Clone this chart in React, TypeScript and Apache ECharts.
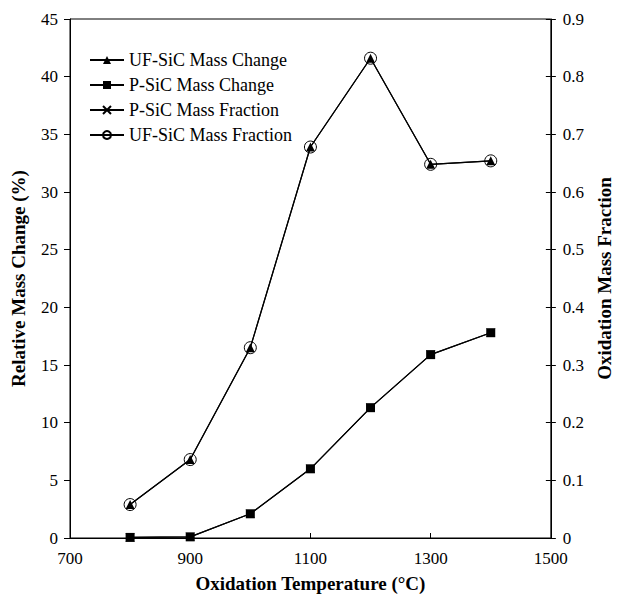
import React, { useEffect, useRef } from "react";
import * as echarts from "echarts";

// Oxidation temperatures (°C)
const temperatures = [800, 900, 1000, 1100, 1200, 1300, 1400];

// Relative mass change (%)
const ufSicMassChange = [2.9, 6.8, 16.5, 33.9, 41.6, 32.4, 32.7];
const pSicMassChange = [0.05, 0.1, 2.1, 6.0, 11.3, 15.9, 17.8];

// Oxidation mass fraction
const pSicMassFraction = [0.001, 0.002, 0.042, 0.12, 0.226, 0.318, 0.356];
const ufSicMassFraction = [0.058, 0.136, 0.33, 0.678, 0.832, 0.648, 0.654];

const seriesNames = [
  "UF-SiC Mass Change",
  "P-SiC Mass Change",
  "P-SiC Mass Fraction",
  "UF-SiC Mass Fraction",
];

const FONT = "'Liberation Serif', 'Times New Roman', serif";
const CROSS = "path://M0,0L10,10M10,0L0,10";

const pairs = (ys: number[]) => temperatures.map((t, i) => [t, ys[i]]);

export default function App() {
  const ref = useRef<HTMLDivElement>(null);

  useEffect(() => {
    if (!ref.current) return;
    const chart = echarts.init(ref.current, undefined, { renderer: "svg" });
    const lineStyle = { color: "#000", width: 1.2 };
    const tickLabel = { fontFamily: FONT, fontSize: 17, color: "#000" };
    const titleStyle = { fontFamily: FONT, fontSize: 19, fontWeight: "bold", color: "#000" };
    chart.setOption({
      animation: false,
      backgroundColor: "#fff",
      textStyle: { fontFamily: FONT, color: "#000" },
      grid: {
        left: 70,
        right: 65,
        top: 19,
        bottom: 56,
        show: true,
        borderColor: "#000",
        borderWidth: 1,
      },
      legend: {
        left: 84,
        top: 46,
        orient: "vertical",
        itemGap: 7,
        itemWidth: 34,
        itemHeight: 10,
        data: seriesNames,
        textStyle: { fontFamily: FONT, fontSize: 18, color: "#000" },
      },
      xAxis: {
        type: "value",
        min: 700,
        max: 1500,
        interval: 200,
        name: "Oxidation Temperature (°C)",
        nameLocation: "middle",
        nameGap: 36,
        nameTextStyle: titleStyle,
        axisLine: { lineStyle: { color: "#000", width: 1 } },
        axisTick: { inside: true, length: 5, lineStyle: { color: "#000" } },
        axisLabel: { ...tickLabel, margin: 12, formatter: (v: number) => String(v) },
        splitLine: { show: false },
      },
      yAxis: [
        {
          type: "value",
          min: 0,
          max: 45,
          interval: 5,
          name: "Relative Mass Change (%)",
          nameLocation: "middle",
          nameGap: 42,
          nameTextStyle: titleStyle,
          axisLine: { show: true, lineStyle: { color: "#000", width: 1 } },
          axisTick: { show: true, length: 6, lineStyle: { color: "#000" } },
          axisLabel: { ...tickLabel, margin: 12 },
          splitLine: { show: false },
        },
        {
          type: "value",
          position: "right",
          min: 0,
          max: 0.9,
          interval: 0.1,
          name: "Oxidation Mass Fraction",
          nameLocation: "middle",
          nameGap: 44,
          nameRotate: 90,
          nameTextStyle: titleStyle,
          axisLine: { show: true, lineStyle: { color: "#000", width: 1 } },
          axisTick: { show: true, length: 5, lineStyle: { color: "#000" } },
          axisLabel: { ...tickLabel, margin: 12, formatter: (v: number) => String(+v.toFixed(1)) },
          splitLine: { show: false },
        },
        {
          // inner half of the right-hand cross ticks
          type: "value",
          position: "right",
          min: 0,
          max: 0.9,
          interval: 0.1,
          axisLine: { show: false },
          axisTick: { show: true, inside: true, length: 5, lineStyle: { color: "#000" } },
          axisLabel: { show: false },
          splitLine: { show: false },
        },
      ],
      series: [
        {
          name: seriesNames[0],
          type: "line",
          yAxisIndex: 0,
          data: pairs(ufSicMassChange),
          symbol: "triangle",
          symbolSize: 9,
          itemStyle: { color: "#000" },
          lineStyle,
          z: 2,
        },
        {
          name: seriesNames[1],
          type: "line",
          yAxisIndex: 0,
          data: pairs(pSicMassChange),
          symbol: "rect",
          symbolSize: 9,
          itemStyle: { color: "#000" },
          lineStyle,
          z: 2,
        },
        {
          name: seriesNames[2],
          type: "line",
          yAxisIndex: 1,
          data: pairs(pSicMassFraction),
          symbol: CROSS,
          symbolSize: 8,
          itemStyle: { color: "none", borderColor: "#000", borderWidth: 1 },
          lineStyle,
          z: 1,
        },
        {
          name: seriesNames[3],
          type: "line",
          yAxisIndex: 1,
          data: pairs(ufSicMassFraction),
          symbol: "circle",
          symbolSize: 12,
          itemStyle: { color: "none", borderColor: "#000", borderWidth: 1 },
          lineStyle,
          z: 3,
        },
      ],
    });
    return () => chart.dispose();
  }, []);

  return (
    <div
      ref={ref}
      style={{ position: "fixed", left: 0, top: 0, width: 622, height: 598, background: "#fff" }}
    />
  );
}
